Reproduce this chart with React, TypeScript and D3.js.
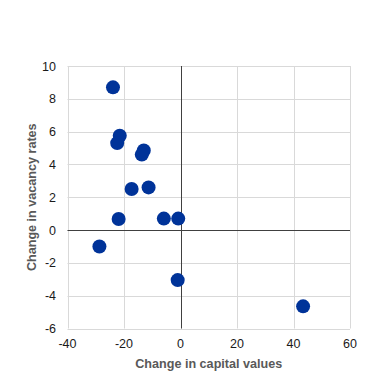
import React, { useEffect, useRef } from 'react';
import * as d3 from 'd3';

// change in capital values (x) and change in vacancy rates (y)
const capitalChange = [-23.9, -21.5, -22.4, -13.0, -13.7, -17.3, -11.3, -21.9, -5.9, -0.8, -28.7, -1.0, 43.4];
const vacancyChange = [8.7, 5.75, 5.3, 4.85, 4.6, 2.5, 2.6, 0.67, 0.7, 0.7, -1.0, -3.05, -4.65];
const xTicks = [-40, -20, 0, 20, 40, 60];
const yTicks = [-6, -4, -2, 0, 2, 4, 6, 8, 10];

export default function App() {
  const ref = useRef<SVGSVGElement>(null);

  useEffect(() => {
    const svg = d3.select(ref.current);
    svg.selectAll('*').remove();

    const left = 67.5, right = 350, top = 66, bottom = 328.5;
    const x = d3.scaleLinear().domain([-40, 60]).range([left, right]);
    const y = d3.scaleLinear().domain([-6, 10]).range([bottom, top]);
    const font = 'Liberation Sans, Arial, sans-serif';

    const g = svg.append('g');

    // gridlines
    g.selectAll('.vgrid').data(xTicks).join('line').attr('class', 'vgrid')
      .attr('x1', d => Math.round(x(d)) + 0.5).attr('x2', d => Math.round(x(d)) + 0.5)
      .attr('y1', top).attr('y2', bottom)
      .attr('stroke', '#d9d9d9').attr('stroke-width', 1);
    g.selectAll('.hgrid').data(yTicks).join('line').attr('class', 'hgrid')
      .attr('y1', d => Math.round(y(d)) + 0.5).attr('y2', d => Math.round(y(d)) + 0.5)
      .attr('x1', left).attr('x2', right)
      .attr('stroke', '#d9d9d9').attr('stroke-width', 1);

    // zero axes
    g.append('line')
      .attr('x1', Math.round(x(0)) + 0.5).attr('x2', Math.round(x(0)) + 0.5)
      .attr('y1', top).attr('y2', bottom)
      .attr('stroke', '#404040').attr('stroke-width', 1);
    g.append('line')
      .attr('y1', Math.round(y(0)) + 0.5).attr('y2', Math.round(y(0)) + 0.5)
      .attr('x1', left).attr('x2', right)
      .attr('stroke', '#404040').attr('stroke-width', 1);

    // tick labels
    g.selectAll('.xlab').data(xTicks).join('text').attr('class', 'xlab')
      .attr('x', d => x(d)).attr('y', 347.5)
      .attr('text-anchor', 'middle')
      .attr('font-family', font).attr('font-size', 12.5).attr('fill', '#1a1a1a')
      .text(d => d);
    g.selectAll('.ylab').data(yTicks).join('text').attr('class', 'ylab')
      .attr('x', 56).attr('y', d => y(d) + 4.5)
      .attr('text-anchor', 'end')
      .attr('font-family', font).attr('font-size', 12.5).attr('fill', '#1a1a1a')
      .text(d => d);

    // points
    const pts = capitalChange.map((c, i) => [c, vacancyChange[i]]);
    g.selectAll('circle').data(pts).join('circle')
      .attr('cx', d => x(d[0])).attr('cy', d => y(d[1]))
      .attr('r', 7).attr('fill', '#003399');

    // axis titles
    svg.append('text')
      .attr('x', (left + right) / 2).attr('y', 368)
      .attr('text-anchor', 'middle')
      .attr('font-family', font).attr('font-size', 12.6).attr('font-weight', 'bold')
      .attr('fill', '#595959')
      .text('Change in capital values');
    const cy = (top + bottom) / 2;
    svg.append('text')
      .attr('x', 36).attr('y', cy)
      .attr('transform', `rotate(-90,36,${cy})`)
      .attr('text-anchor', 'middle')
      .attr('font-family', font).attr('font-size', 12.6).attr('font-weight', 'bold')
      .attr('fill', '#595959')
      .text('Change in vacancy rates');
  }, []);

  return (
    <svg ref={ref} width={372} height={373}
      style={{ position: 'absolute', left: 0, top: 0, background: '#fff' }} />
  );
}
